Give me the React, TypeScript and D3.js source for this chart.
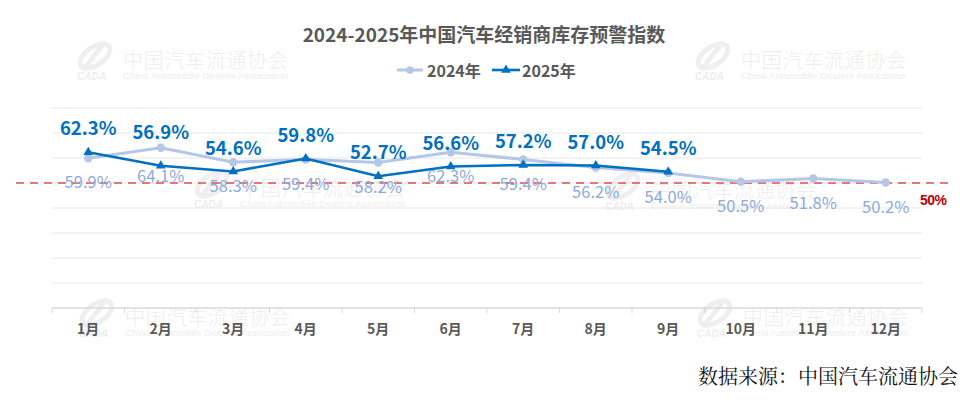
import { useEffect, useRef } from "react";
import * as d3 from "d3";

// 2024-2025 dealer inventory warning index (CADA)
const months = ["1月", "2月", "3月", "4月", "5月", "6月", "7月", "8月", "9月", "10月", "11月", "12月"];
const values2024 = [59.9, 64.1, 58.3, 59.4, 58.2, 62.3, 59.4, 56.2, 54.0, 50.5, 51.8, 50.2];
const values2025 = [62.3, 56.9, 54.6, 59.8, 52.7, 56.6, 57.2, 57.0, 54.5];
const yTicks = [0, 10, 20, 30, 40, 50, 60, 70, 80];
const warningLevel = 50;
const seriesNames = ["2024年", "2025年"];

const W = 970;
const H = 404;
const C24 = "#b4c7e7";
const C24_LABEL = "#8eaadb";
const C25 = "#0070c0";
const FONT = "'Noto Sans CJK SC', 'Noto Sans', sans-serif";

export default function App() {
    const svgRef = useRef<SVGSVGElement>(null);

    useEffect(() => {
        document.body.style.margin = "0";
        if (!svgRef.current) return;
        const svg = d3.select(svgRef.current);
        svg.selectAll("*").remove();

        const x = d3.scaleBand<string>().domain(months).range([52, 922]);
        const y = d3.scaleLinear().domain([0, 80]).range([308, 108]);
        const cx = (i: number) => x(months[i])! + x.bandwidth() / 2;

        // watermarks
        const marks = [[75, 40], [693, 40], [192, 168], [603, 170], [77, 297], [695, 297]];
        marks.forEach(([mx, my]) => {
            const wm = svg.append("g").attr("transform", `translate(${mx},${my})`).attr("fill", "#eeeeee");
            wm.append("ellipse").attr("cx", 20).attr("cy", 16).attr("rx", 17).attr("ry", 9)
                .attr("transform", "rotate(-35,20,16)").attr("fill", "none").attr("stroke", "#efefef").attr("stroke-width", 5);
            wm.append("path").attr("d", "M30,2 L8,30").attr("stroke", "#efefef").attr("stroke-width", 5);
            wm.append("text").attr("x", 2).attr("y", 40).attr("font-family", "Liberation Sans, Arial")
                .attr("font-size", 10).attr("font-weight", 700).attr("font-style", "italic").text("CADA");
            wm.append("text").attr("x", 48).attr("y", 28).attr("font-family", FONT).attr("font-size", 20)
                .attr("font-weight", 300).attr("textLength", 165).text("中国汽车流通协会");
            wm.append("text").attr("x", 48).attr("y", 39).attr("font-family", "Liberation Sans, Arial")
                .attr("font-size", 9.5).attr("textLength", 165).text("China Automobile Dealers Association");
        });

        // gridlines
        svg.append("g").selectAll("line").data(yTicks).join("line")
            .attr("x1", 52).attr("x2", 922)
            .attr("y1", d => y(d)).attr("y2", d => y(d))
            .attr("stroke", d => (d === 0 ? "#d9d9d9" : "#e8e8e8")).attr("stroke-width", d => (d === 0 ? 1.5 : 1));

        // axis ticks at band edges
        const edges = months.map(m => x(m)!).concat([922]);
        svg.append("g").selectAll("line").data(edges).join("line")
            .attr("x1", d => d).attr("x2", d => d).attr("y1", 308).attr("y2", 313)
            .attr("stroke", "#d9d9d9");

        svg.append("g").selectAll("text").data(months).join("text")
            .attr("x", (_, i) => cx(i)).attr("y", 334).attr("text-anchor", "middle")
            .attr("font-family", FONT).attr("font-size", 14).attr("font-weight", 700).attr("fill", "#595959")
            .text(d => d);

        // warning line
        svg.append("line").attr("x1", 16).attr("x2", 953)
            .attr("y1", y(warningLevel)).attr("y2", y(warningLevel))
            .attr("stroke", "#e05050").attr("stroke-width", 1.6).attr("stroke-dasharray", "8,6");
        svg.append("text").attr("x", 920).attr("y", 205).attr("textLength", 27)
            .attr("font-family", "Liberation Sans Narrow, Liberation Sans, Arial").attr("font-size", 14).attr("font-weight", 700)
            .attr("fill", "#c00000").text(`${warningLevel}%`);

        const line = d3.line<number>().x((_, i) => cx(i)).y(d => y(d));

        // 2024
        svg.append("path").datum(values2024).attr("d", line).attr("fill", "none")
            .attr("stroke", C24).attr("stroke-width", 3.2);
        svg.append("g").selectAll("circle").data(values2024).join("circle")
            .attr("cx", (_, i) => cx(i)).attr("cy", d => y(d)).attr("r", 4.2).attr("fill", C24);

        // 2025
        svg.append("path").datum(values2025).attr("d", line).attr("fill", "none")
            .attr("stroke", C25).attr("stroke-width", 2.6);
        const tri = d3.symbol().type(d3.symbolTriangle).size(40);
        svg.append("g").selectAll("path").data(values2025).join("path")
            .attr("d", tri).attr("transform", (d, i) => `translate(${cx(i)},${y(d)})`).attr("fill", C25);

        // labels
        svg.append("g").selectAll("text").data(values2024).join("text")
            .attr("x", (_, i) => cx(i)).attr("y", (d, i) => y(d) + (i === 1 ? 34 : 30))
            .attr("text-anchor", "middle").attr("font-family", FONT).attr("font-size", 16.5)
            .attr("fill", C24_LABEL).text(d => `${d.toFixed(1)}%`);
        svg.append("g").selectAll("text").data(values2025).join("text")
            .attr("x", (_, i) => cx(i)).attr("y", (d, i) => y(d) - (i === 1 ? 27 : 17))
            .attr("text-anchor", "middle").attr("font-family", FONT).attr("font-size", 18.5).attr("font-weight", 700)
            .attr("fill", C25).text(d => `${d.toFixed(1)}%`);

        // title
        svg.append("text").attr("x", 484).attr("y", 42).attr("text-anchor", "middle")
            .attr("font-family", FONT).attr("font-size", 19).attr("font-weight", 700).attr("fill", "#595959")
            .text("2024-2025年中国汽车经销商库存预警指数");

        // legend
        const lg = svg.append("g");
        lg.append("line").attr("x1", 397).attr("x2", 423).attr("y1", 70).attr("y2", 70).attr("stroke", C24).attr("stroke-width", 3);
        lg.append("circle").attr("cx", 410).attr("cy", 70).attr("r", 3.8).attr("fill", C24);
        lg.append("text").attr("x", 427).attr("y", 77).attr("font-family", FONT).attr("font-size", 16)
            .attr("font-weight", 700).attr("fill", "#595959").text(seriesNames[0]);
        lg.append("line").attr("x1", 492).attr("x2", 520).attr("y1", 70).attr("y2", 70).attr("stroke", C25).attr("stroke-width", 2.6);
        lg.append("path").attr("d", tri).attr("transform", "translate(506,70)").attr("fill", C25);
        lg.append("text").attr("x", 522).attr("y", 77).attr("font-family", FONT).attr("font-size", 16)
            .attr("font-weight", 700).attr("fill", "#595959").text(seriesNames[1]);

        // source
        svg.append("text").attr("x", 958).attr("y", 384).attr("text-anchor", "end")
            .attr("font-family", "'Noto Serif CJK SC', serif, " + FONT).attr("font-size", 20).attr("fill", "#111")
            .text("数据来源：中国汽车流通协会");
    }, []);

    return <svg ref={svgRef} width={W} height={H} viewBox={`0 0 ${W} ${H}`} style={{ display: "block", background: "#fff" }} />;
}
